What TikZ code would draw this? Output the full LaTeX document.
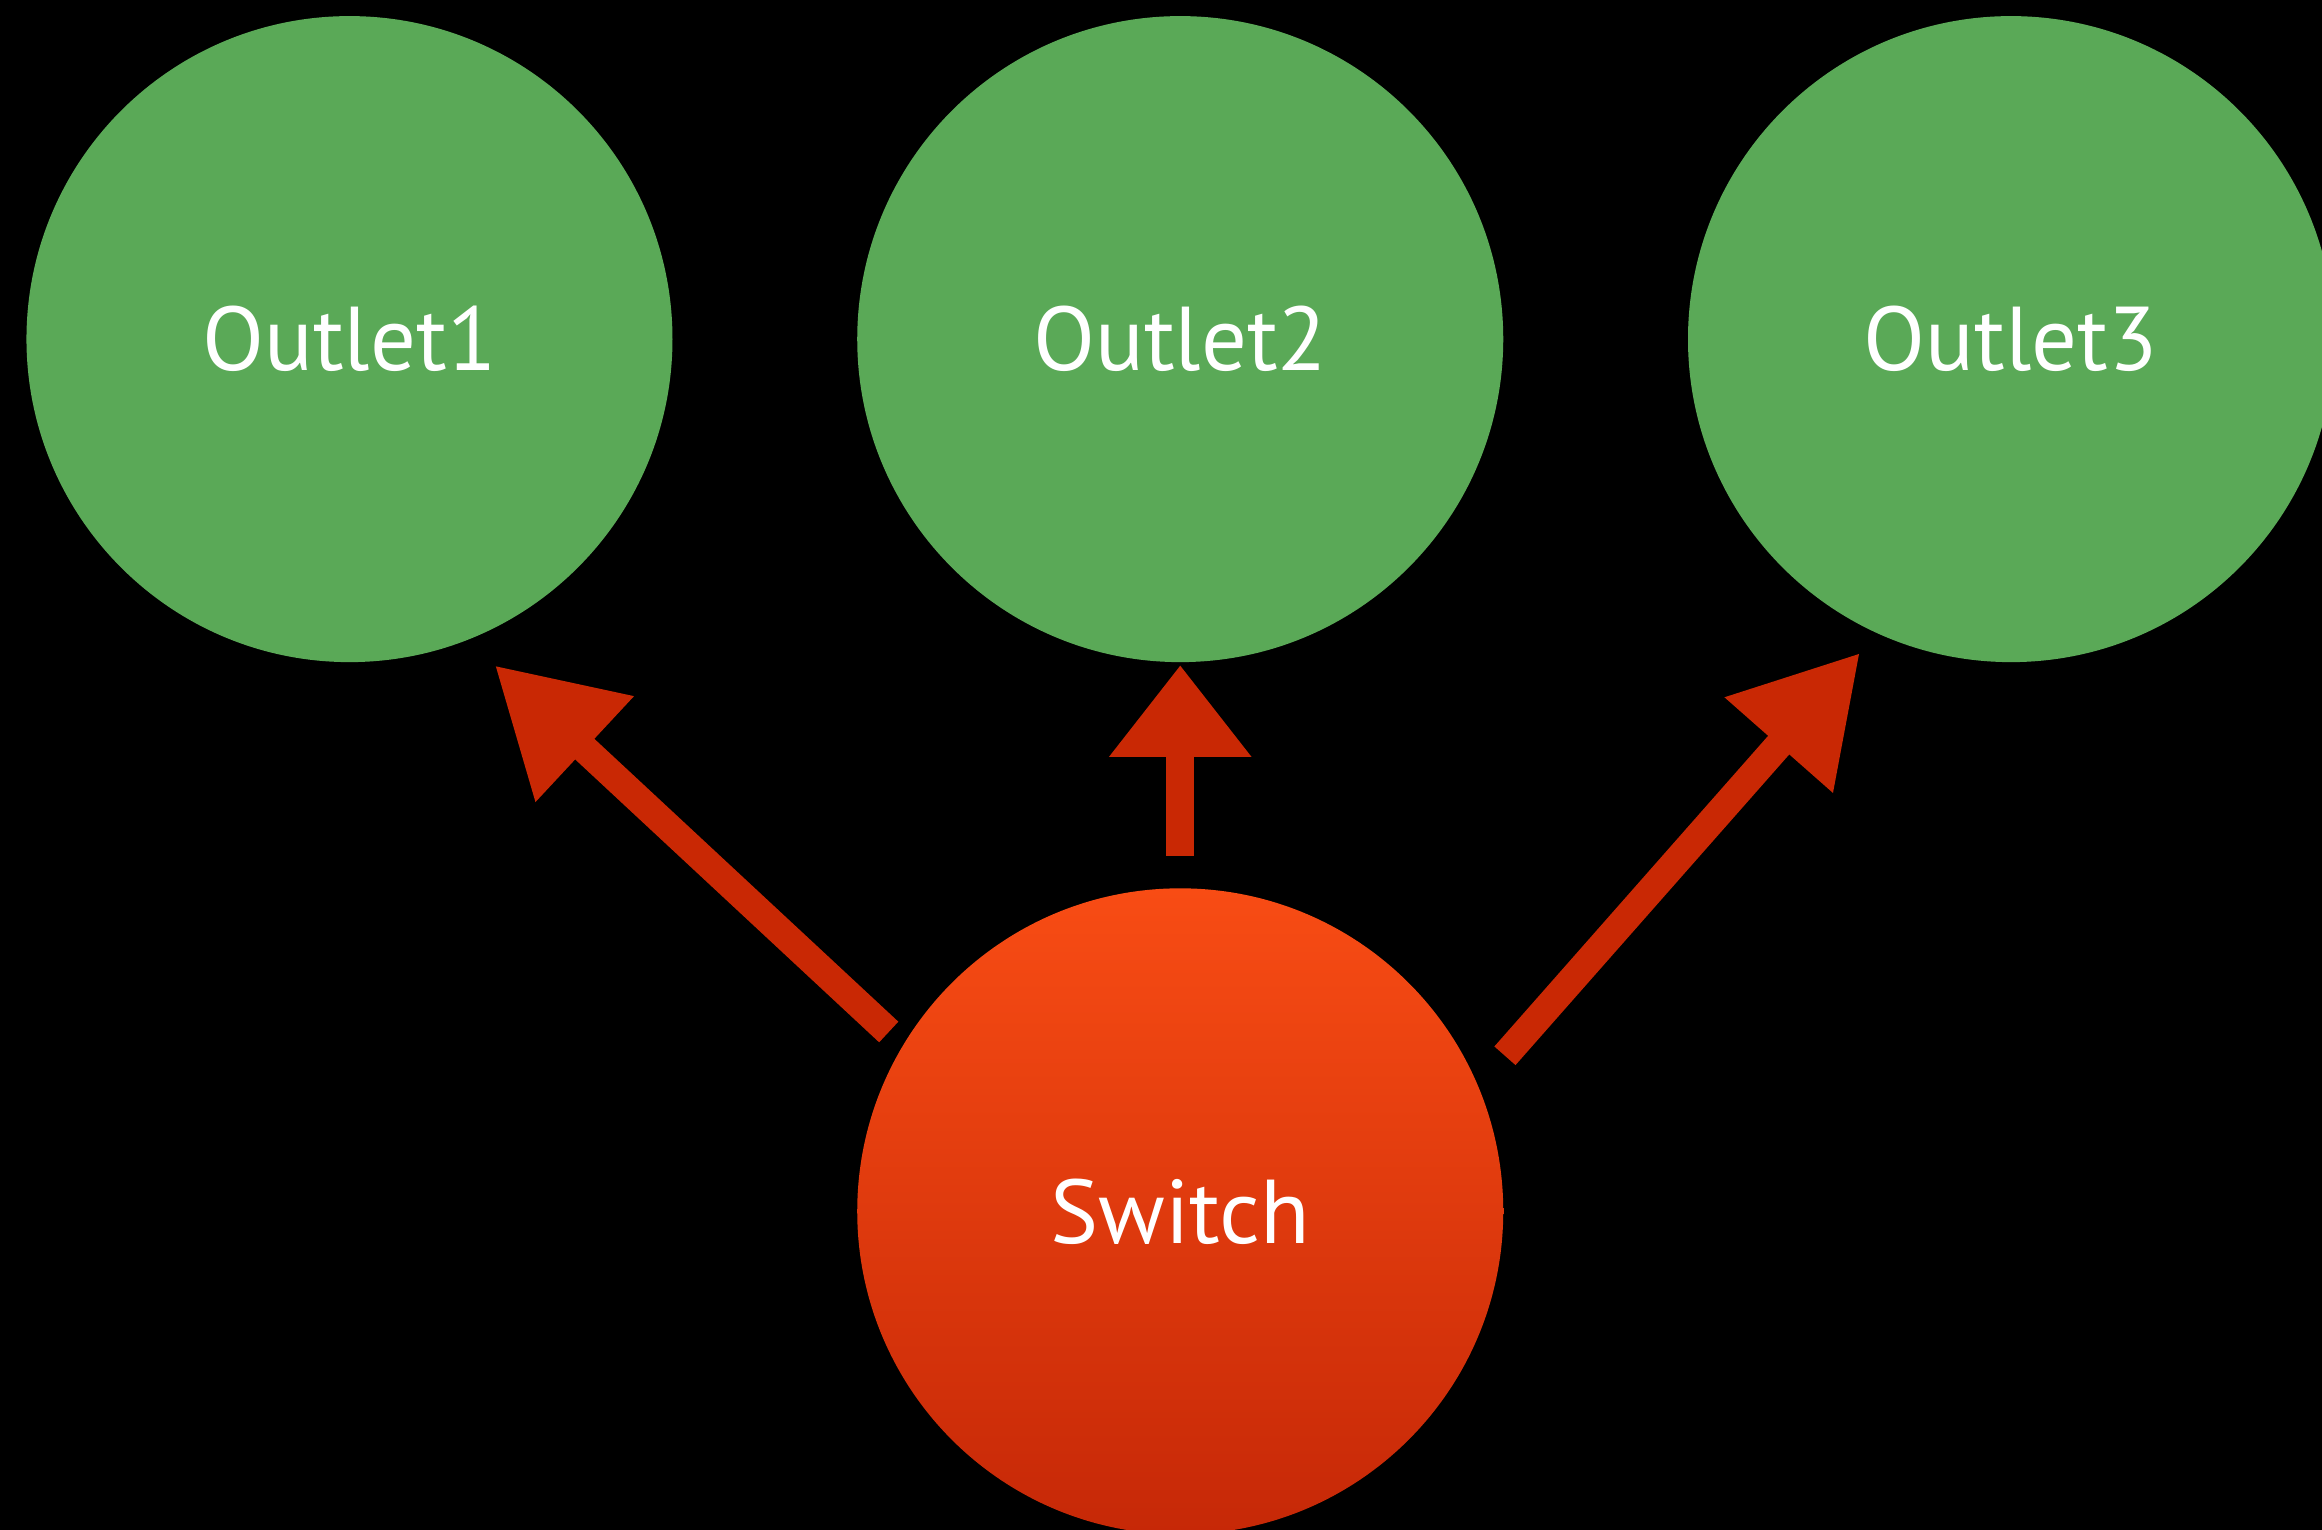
\documentclass[tikz,border=0pt]{standalone}
\usepackage{fontspec}
\setmainfont{PT Sans}
\usetikzlibrary{arrows.meta}
\usetikzlibrary{calc}

\definecolor{outletgreen}{HTML}{5AA957}
\definecolor{arrowred}{HTML}{C92804}
\definecolor{switchtop}{HTML}{F84C14}
\definecolor{switchbottom}{HTML}{C62807}

\begin{document}
\begin{tikzpicture}[x=0.01cm, y=0.01cm,
    outlet/.style={circle, fill=outletgreen, inner sep=0pt, minimum size=4.36cm,
      text=white, font=\fontsize{17.4}{21}\selectfont},
    switchnode/.style={circle, top color=switchtop, bottom color=switchbottom, inner sep=0pt,
      minimum size=4.36cm, text=white, font=\fontsize{17.4}{21}\selectfont},
    arr/.style={arrowred, line width=0.19cm, -{Triangle[length=#1, width=0.92cm]}},
    arr/.default=0.83cm]
      \fill[black] (0,0) rectangle (1568,1033);
      \useasboundingbox (0,0) rectangle (1568,1033);

      \node[outlet] (o1) at (236,804) {Outlet1};
      \node[outlet] (o2) at (797,804) {Outlet2};
      \node[outlet] (o3) at (1358,804) {Outlet3};
      \node[switchnode] (sw) at (797,215) {Switch};

      \draw[arr] ($(sw.center)+(148.4:2.31cm)$) -- ($(o1.center)+(-66:2.41cm)$);
      \draw[arr=0.62cm] ($(sw.center)+(90:2.40cm)$) -- ($(o2.center)+(-90:2.20cm)$);
      \draw[arr] ($(sw.center)+(25.6:2.43cm)$) -- ($(o3.center)+(-115.7:2.35cm)$);
    \end{tikzpicture}
\end{document}
